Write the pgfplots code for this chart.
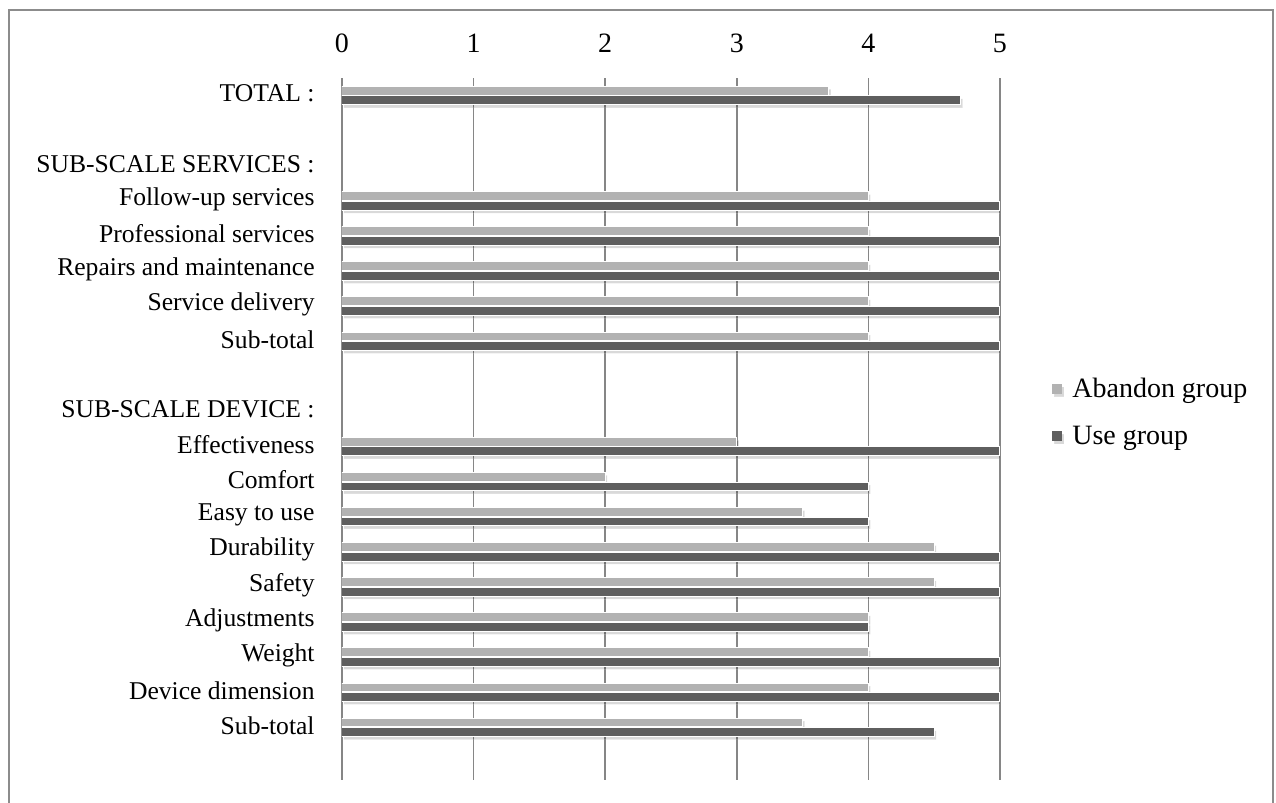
\documentclass[border=0pt]{standalone}
\usepackage{pgfplots}
\pgfplotsset{compat=1.18}
\usepackage{fontspec}
\setmainfont{Liberation Serif}
\usetikzlibrary{shadows}

\definecolor{abandon}{HTML}{B2B2B2}
\definecolor{usegrp}{HTML}{5F5F5F}
\definecolor{gridgray}{HTML}{868686}
\definecolor{framegray}{HTML}{8C8C8C}

\newcommand{\lblfont}{\fontsize{12.8pt}{15pt}\selectfont}
\newcommand{\legfont}{\fontsize{14pt}{16pt}\selectfont}

\begin{document}
\begin{tikzpicture}
\useasboundingbox (-171pt,-11.5pt) rectangle (467pt,390pt);
\draw[framegray, line width=1pt] (-166.5pt,-12pt) -- (-166.5pt,385pt) -- (465.5pt,385pt) -- (465.5pt,-12pt);

\begin{axis}[
  scale only axis,
  width=329pt, height=351pt,
  xbar,
  bar width=4.4pt,
  xmin=0, xmax=5,
  ymin=-0.5, ymax=19.5,
  y dir=reverse,
  xtick={0,1,2,3,4,5},
  xticklabel pos=upper,
  ytick={0,2,3,4,5,6,7,9,10,11,12,13,14,15,16,17,18},
  yticklabels={TOTAL :, SUB-SCALE SERVICES :, Follow-up services, Professional services, Repairs and maintenance, Service delivery, Sub-total, SUB-SCALE DEVICE :, Effectiveness, Comfort, Easy to use, Durability, Safety, Adjustments, Weight, Device dimension, Sub-total},
  axis line style={draw=none},
  major tick length=0pt,
  tick style={draw=none},
  xmajorgrids,
  major grid style={gridgray, line width=0.75pt},
  /pgf/number format/assume math mode=true,
  ticklabel style={font=\lblfont},
  xticklabel style={anchor=base, inner sep=0pt, yshift=13pt, font=\legfont},
  yticklabel style={anchor=east, inner sep=0pt, xshift=-13.5pt, yshift=1pt},
  legend style={at={(axis description cs:1.079,0.523)}, anchor=west, draw=none, fill=none,
    font=\legfont, row sep=9pt, inner sep=0pt,
    /tikz/every odd column/.append style={column sep=3pt}},
  legend cell align=left,
  legend image code/.code={\fill[draw=none] (0pt,-2.2pt) rectangle (5pt,2.8pt);},
  every axis plot/.append style={draw=white, line width=0.5pt,
    drop shadow={shadow xshift=1pt, shadow yshift=-1.5pt, opacity=0.15, fill=black}},
]
\addplot[fill=abandon, bar shift=2.4pt] coordinates {
  (3.7,0)
  (4,3) (4,4) (4,5) (4,6) (4,7)
  (3,10) (2,11) (3.5,12) (4.5,13) (4.5,14) (4,15) (4,16) (4,17) (3.5,18)
};
\addplot[fill=usegrp, bar shift=-2.4pt] coordinates {
  (4.7,0)
  (5,3) (5,4) (5,5) (5,6) (5,7)
  (5,10) (4,11) (4,12) (5,13) (5,14) (4,15) (5,16) (5,17) (4.5,18)
};
\legend{Abandon group, Use group}
\end{axis}
\end{tikzpicture}
\end{document}
